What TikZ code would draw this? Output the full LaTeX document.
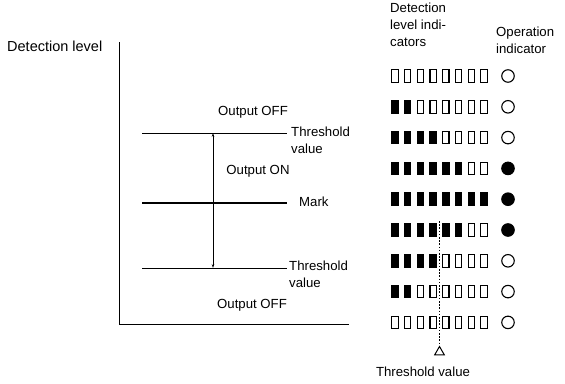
\documentclass[tikz,border=0pt]{standalone}
\usepackage{fontspec}
\setmainfont{Liberation Sans}
\usetikzlibrary{arrows.meta,shapes.geometric}
\begin{document}
\begin{tikzpicture}[x=1pt,y=-1pt,
  lbl/.style={font=\fontsize{13.2}{17}\selectfont, inner sep=0pt, align=left},
  lvl/.style={line width=0.8pt},
  markline/.style={line width=1.6pt},
  axis/.style={line width=1pt},
  ebox/.style={draw, line width=1.1pt, minimum width=6.3pt, minimum height=12.5pt, inner sep=0pt},
  fbox/.style={ebox, fill=black},
  ecirc/.style={draw, circle, line width=1.1pt, minimum size=12.5pt, inner sep=0pt},
  fcirc/.style={ecirc, fill=black},
  dotln/.style={line width=1.1pt, dash pattern=on 1.6pt off 1.6pt},
  tri/.style={draw, regular polygon, regular polygon sides=3, line width=1pt, minimum size=11pt, inner sep=0pt}]
\useasboundingbox (0,0) rectangle (565,383);
% axis
\node[lbl, anchor=west, font=\fontsize{14.5}{17}\selectfont] (dl) at (7,46) {Detection level};
\coordinate (ax0) at (119,42);
\coordinate (axc) at (119,324);
\coordinate (ax1) at (349,324);
\draw[axis] (ax0) -- (axc) -- (ax1);
% level lines
\coordinate (t1a) at (142,133); \coordinate (t1b) at (287,133);
\coordinate (ma) at (142,203); \coordinate (mb) at (287,203);
\coordinate (t2a) at (142,268); \coordinate (t2b) at (287,268);
\draw[lvl] (t1a) -- (t1b);
\draw[markline] (ma) -- (mb);
\draw[lvl] (t2a) -- (t2b);
\coordinate (arA) at (213,133); \coordinate (arB) at (213,268);
\draw[line width=0.8pt, {Stealth[length=4pt,width=2.6pt]}-{Stealth[length=4pt,width=2.6pt]}] (arA) -- (arB);
\node[lbl] (off1) at (253,112) {Output OFF};
\node[lbl, anchor=west] (th1) at (291,140) {Threshold\\value};
\node[lbl] (on) at (258,171) {Output ON};
\node[lbl, anchor=west] (mk) at (299,202) {Mark};
\node[lbl, anchor=west] (th2) at (289,274) {Threshold\\value};
\node[lbl] (off2) at (252,305) {Output OFF};
% headers
\node[lbl, anchor=north west] (hd1) at (390,3) {Detection\\level indi-\\cators};
\node[lbl, anchor=north west] (hd2) at (496,27) {Operation\\indicator};
% indicator rows
\foreach \n [count=\r] in {0,2,4,6,8,6,4,2,0} {
  \pgfmathsetmacro\yy{76+30.8*(\r-1)}
  \foreach \c in {1,...,8} {
    \ifnum\c>\n \def\st{ebox}\else\def\st{fbox}\fi
    \pgfmathsetmacro\xx{395+12.7*(\c-1)}
    \node[\st] (b\r-\c) at (\xx,\yy) {};
  }
  \ifnum\r>3 \ifnum\r<7 \def\cs{fcirc}\else\def\cs{ecirc}\fi \else\def\cs{ecirc}\fi
  \node[\cs] (op\r) at (508,\yy) {};
}
% threshold marker
\coordinate (dtop) at (439.5,221);
\node[tri] (tr) at (439.5,352) {};
\draw[dotln] (dtop) -- (tr.north);
\node[lbl] (thb) at (423,372) {Threshold value};
\end{tikzpicture}
\end{document}
